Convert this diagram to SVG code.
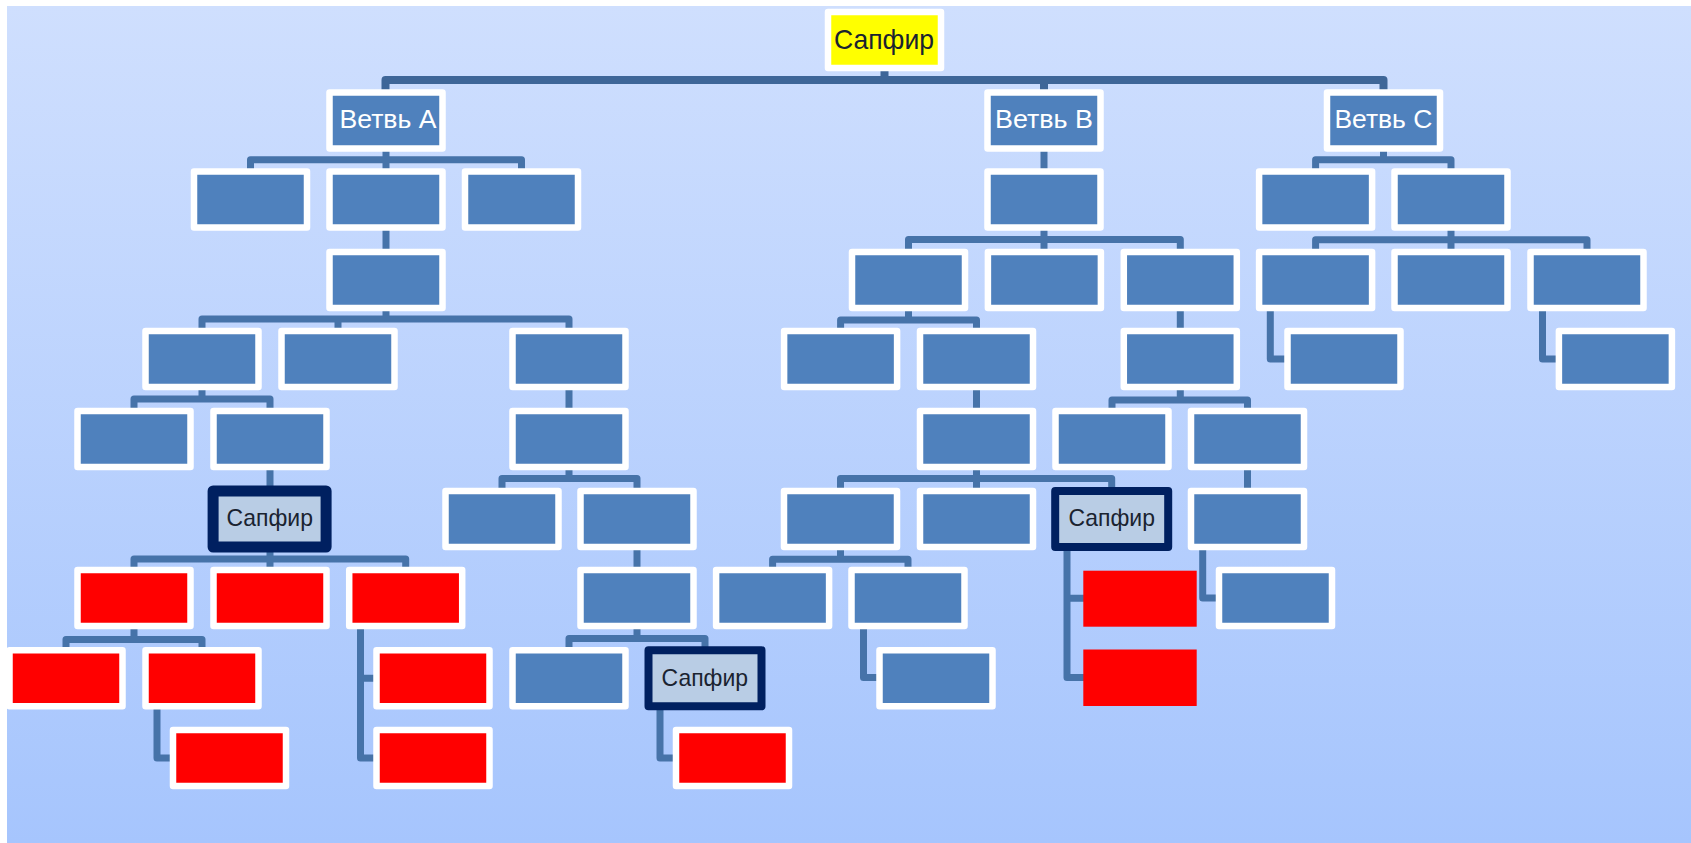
<svg xmlns="http://www.w3.org/2000/svg" width="1691" height="843" viewBox="0 0 1691 843">
<defs>
<linearGradient id="bg" x1="0" y1="0" x2="0" y2="1">
<stop offset="0" stop-color="#cfdffe"/>
<stop offset="1" stop-color="#a6c5fd"/>
</linearGradient>
<style>
.b{fill:#4f81bd;stroke:#ffffff;stroke-width:6.5;stroke-linejoin:round}
.r{fill:#ff0000;stroke:#ffffff;stroke-width:6.5;stroke-linejoin:round}
.rn{fill:#ff0000;stroke:none}
.y{fill:#ffff00;stroke:#ffffff;stroke-width:6.5;stroke-linejoin:round}
.d{fill:#b9cde5;stroke:#002060;stroke-width:8;stroke-linejoin:round}
.dt{fill:#b9cde5;stroke:#002060;stroke-width:11;stroke-linejoin:round}
.c{fill:none;stroke:#4673a9;stroke-width:7;stroke-linejoin:round}
.m{fill:none;stroke:#3e6698;stroke-width:8;stroke-linejoin:round}
.tw{font-family:"Liberation Sans",Arial,sans-serif;font-size:26px;fill:#ffffff;text-anchor:middle}
.td{font-family:"Liberation Sans",Arial,sans-serif;font-size:24px;fill:#1a2330;text-anchor:middle}
.tr{font-family:"Liberation Sans",Arial,sans-serif;font-size:27.5px;fill:#1a2330;text-anchor:middle}
</style>
</defs>
<rect x="0" y="0" width="1691" height="843" fill="#ffffff"/>
<rect x="7" y="6" width="1684" height="837" fill="url(#bg)"/>
<g id="connectors">
<path class="m" d="M385.5 120 V80 H1383.5 V120 M884.5 40 V80 M1044 80 V120"/>
<path class="c" d="M250.5 199.5 V159.7 H521.5 V199.5 M386 120.5 V199.5"/>
<path class="c" d="M386 199.5 V280"/>
<path class="c" d="M202 359 V319 H569 V359 M338 319 V359 M386 280 V319"/>
<path class="c" d="M134 439 V399 H270 V439 M202 359 V399"/>
<path class="c" d="M270 439 V519"/>
<path class="c" d="M134 598 V559 H405.7 V598 M270 519 V598"/>
<path class="c" d="M66 678 V639.5 H202 V678 M134 598 V639.5"/>
<path class="c" d="M157 678 V758 H229.5"/>
<path class="c" d="M360.5 598 V758 H433 M360.5 678.3 H433"/>
<path class="c" d="M569 359 V439"/>
<path class="c" d="M502 519 V478.5 H637 V519 M569 439 V478.5"/>
<path class="c" d="M637 519 V598"/>
<path class="c" d="M569 678 V638.5 H705 V678 M637 598 V638.5"/>
<path class="c" d="M660 678 V758 H732.5"/>
<path class="c" d="M1044 120.5 V199.5"/>
<path class="c" d="M908.5 280 V239.5 H1180.3 V280 M1044 199.5 V280"/>
<path class="c" d="M840.6 359 V320 H976.5 V359 M908.5 280 V320"/>
<path class="c" d="M976.5 359 V439"/>
<path class="c" d="M840.5 519 V478.5 H1111.7 V519 M976.5 439 V519"/>
<path class="c" d="M772.6 598 V559.3 H908 V598 M840.5 519 V559.3"/>
<path class="c" d="M863.5 598 V677.5 H936"/>
<path class="c" d="M1067 519 V677.5 H1140 M1067 598.3 H1140"/>
<path class="c" d="M1180.3 280 V359"/>
<path class="c" d="M1112 439 V400 H1247.5 V439 M1180.3 359 V400"/>
<path class="c" d="M1247.5 439 V519"/>
<path class="c" d="M1202.7 519 V598 H1275.5"/>
<path class="c" d="M1315.6 199.5 V159.7 H1451 V199.5 M1383.5 120.5 V159.7"/>
<path class="c" d="M1315.6 280 V239.7 H1587 V280 M1451 199.5 V280"/>
<path class="c" d="M1270.3 280 V359 H1344"/>
<path class="c" d="M1542.5 280 V359 H1615.4"/>
</g>
<g id="root"><rect class="y" x="828" y="12" width="113" height="56"/><text class="tr" x="884" y="49" textLength="100" lengthAdjust="spacingAndGlyphs">Сапфир</text></g>
<g id="branchA"><rect class="b" x="329.5" y="92.5" width="113" height="56"/><text class="tw" x="388" y="128" textLength="97" lengthAdjust="spacingAndGlyphs">Ветвь А</text></g>
<g id="branchB"><rect class="b" x="987.5" y="92.5" width="113" height="56"/><text class="tw" x="1044" y="128" textLength="98" lengthAdjust="spacingAndGlyphs">Ветвь В</text></g>
<g id="branchC"><rect class="b" x="1327" y="92.5" width="113" height="56"/><text class="tw" x="1383.4" y="128" textLength="98" lengthAdjust="spacingAndGlyphs">Ветвь С</text></g>
<g id="a1"><rect class="b" x="194" y="171.5" width="113" height="56"/></g>
<g id="a2"><rect class="b" x="329.5" y="171.5" width="113" height="56"/></g>
<g id="a3"><rect class="b" x="465" y="171.5" width="113" height="56"/></g>
<g id="a2c"><rect class="b" x="329.5" y="252" width="113" height="56"/></g>
<g id="a4"><rect class="b" x="145.5" y="331" width="113" height="56"/></g>
<g id="a5"><rect class="b" x="281.5" y="331" width="113" height="56"/></g>
<g id="a6"><rect class="b" x="512.5" y="331" width="113" height="56"/></g>
<g id="a7"><rect class="b" x="77.5" y="411" width="113" height="56"/></g>
<g id="a8"><rect class="b" x="213.5" y="411" width="113" height="56"/></g>
<g id="a9"><rect class="b" x="512.5" y="411" width="113" height="56"/></g>
<g id="s1"><rect class="dt" x="213.1" y="491" width="113" height="56"/><text class="td" x="269.7" y="526" textLength="86.5" lengthAdjust="spacingAndGlyphs">Сапфир</text></g>
<g id="a10"><rect class="b" x="445.5" y="491" width="113" height="56"/></g>
<g id="a11"><rect class="b" x="580.5" y="491" width="113" height="56"/></g>
<g id="r1"><rect class="r" x="77.5" y="570" width="113" height="56"/></g>
<g id="r2"><rect class="r" x="213.5" y="570" width="113" height="56"/></g>
<g id="r3"><rect class="r" x="349.2" y="570" width="113" height="56"/></g>
<g id="a12"><rect class="b" x="580.5" y="570" width="113" height="56"/></g>
<g id="r4"><rect class="r" x="9.5" y="650.3" width="113" height="56"/></g>
<g id="r5"><rect class="r" x="145.5" y="650.3" width="113" height="56"/></g>
<g id="r7"><rect class="r" x="376.5" y="650.3" width="113" height="56"/></g>
<g id="a13"><rect class="b" x="512.5" y="650.3" width="113" height="56"/></g>
<g id="s2"><rect class="d" x="648.5" y="650.3" width="113" height="56"/><text class="td" x="704.8" y="686" textLength="86.5" lengthAdjust="spacingAndGlyphs">Сапфир</text></g>
<g id="r6"><rect class="r" x="173" y="730" width="113" height="56"/></g>
<g id="r8"><rect class="r" x="376.5" y="730" width="113" height="56"/></g>
<g id="r9"><rect class="r" x="676" y="730" width="113" height="56"/></g>
<g id="b1"><rect class="b" x="987.5" y="171.5" width="113" height="56"/></g>
<g id="b2"><rect class="b" x="852" y="252" width="113" height="56"/></g>
<g id="b3"><rect class="b" x="987.9" y="252" width="113" height="56"/></g>
<g id="b4"><rect class="b" x="1123.8" y="252" width="113" height="56"/></g>
<g id="b5"><rect class="b" x="784.1" y="331" width="113" height="56"/></g>
<g id="b6"><rect class="b" x="920" y="331" width="113" height="56"/></g>
<g id="b4c"><rect class="b" x="1123.8" y="331" width="113" height="56"/></g>
<g id="b7"><rect class="b" x="920" y="411" width="113" height="56"/></g>
<g id="b13"><rect class="b" x="1055.5" y="411" width="113" height="56"/></g>
<g id="b14"><rect class="b" x="1191" y="411" width="113" height="56"/></g>
<g id="b8"><rect class="b" x="784" y="491" width="113" height="56"/></g>
<g id="b9"><rect class="b" x="920" y="491" width="113" height="56"/></g>
<g id="s3"><rect class="d" x="1055.2" y="491" width="113" height="56"/><text class="td" x="1111.7" y="526" textLength="86.5" lengthAdjust="spacingAndGlyphs">Сапфир</text></g>
<g id="b15"><rect class="b" x="1191" y="491" width="113" height="56"/></g>
<g id="b10"><rect class="b" x="716.1" y="570" width="113" height="56"/></g>
<g id="b11"><rect class="b" x="851.5" y="570" width="113" height="56"/></g>
<g id="rs1"><rect class="rn" x="1083.3" y="570.7" width="113.4" height="56"/></g>
<g id="b16"><rect class="b" x="1219" y="570" width="113" height="56"/></g>
<g id="b12"><rect class="b" x="879.5" y="650.3" width="113" height="56"/></g>
<g id="rs2"><rect class="rn" x="1083.3" y="649.5" width="113.4" height="56.5"/></g>
<g id="c1"><rect class="b" x="1259.1" y="171.5" width="113" height="56"/></g>
<g id="c2"><rect class="b" x="1394.5" y="171.5" width="113" height="56"/></g>
<g id="c3"><rect class="b" x="1259.1" y="252" width="113" height="56"/></g>
<g id="c4"><rect class="b" x="1394.5" y="252" width="113" height="56"/></g>
<g id="c5"><rect class="b" x="1530.5" y="252" width="113" height="56"/></g>
<g id="c6"><rect class="b" x="1287.5" y="331" width="113" height="56"/></g>
<g id="c7"><rect class="b" x="1558.9" y="331" width="113" height="56"/></g>
</svg>
